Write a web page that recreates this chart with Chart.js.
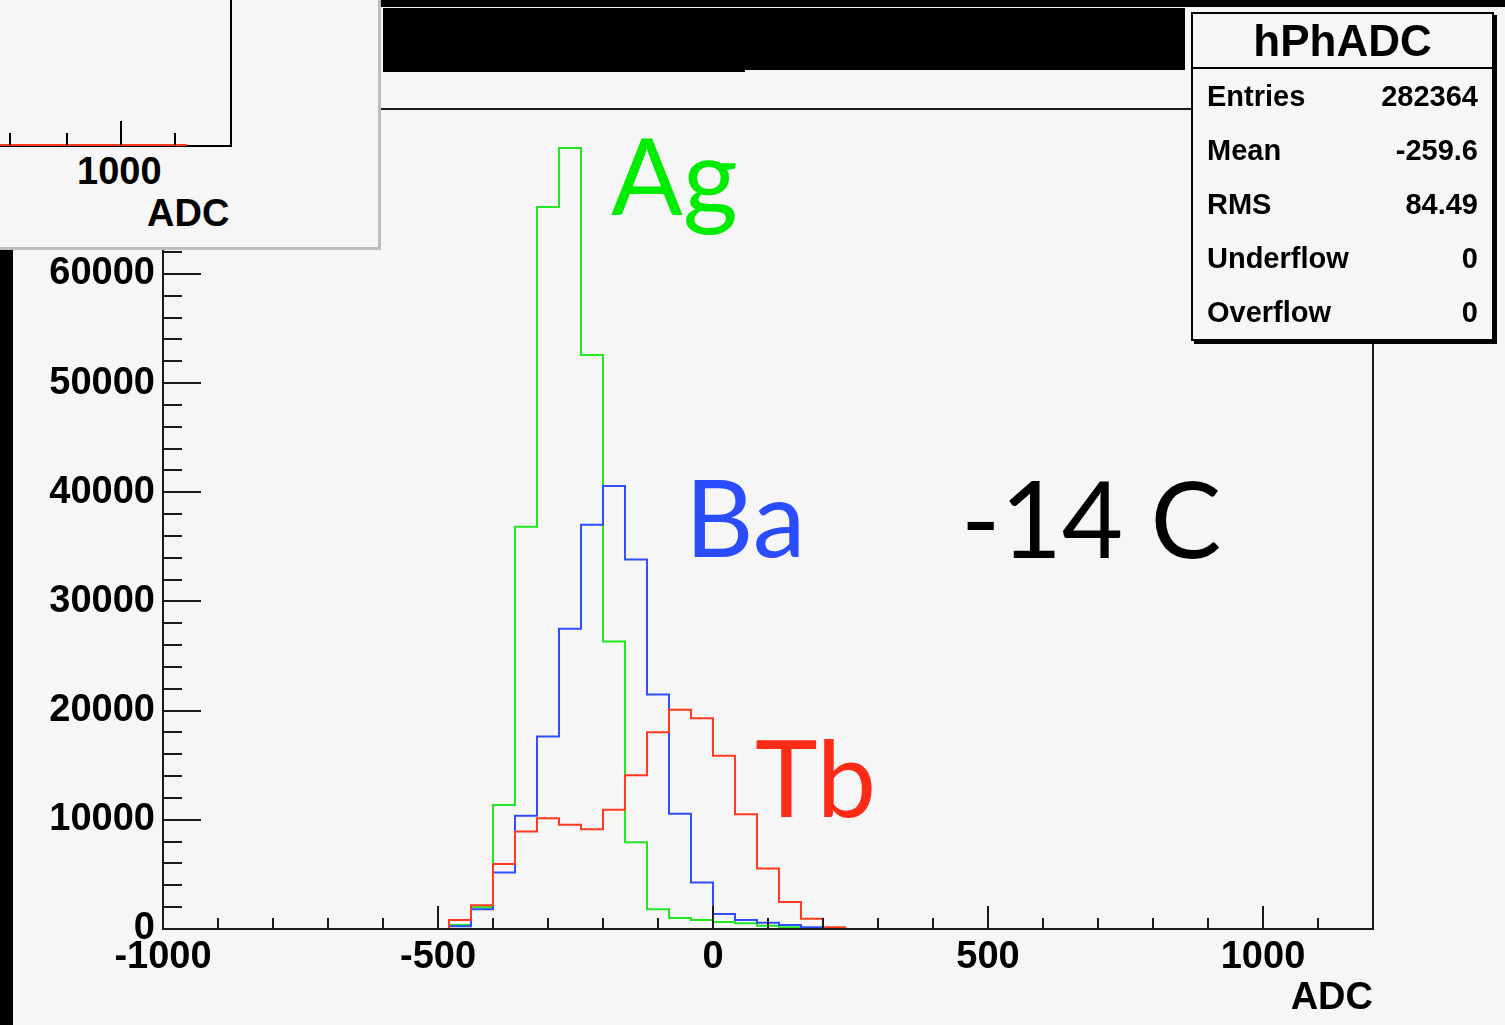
<!DOCTYPE html>
<html>
<head>
<meta charset="utf-8">
<title>hPhADC</title>
<script src="https://cdn.jsdelivr.net/npm/chart.js@4.4.1/dist/chart.umd.min.js"></script>
<style>
  html, body { margin: 0; padding: 0; background: #f6f6f6; }
  #wrap { position: relative; width: 1505px; height: 1025px; overflow: hidden; background: #f6f6f6; }
  #wrap canvas { position: absolute; left: 0; top: 0; }
  .blk { position: absolute; background: #000; }
  .big { position: absolute; font-family: Lato, sans-serif; line-height: 1; white-space: nowrap; font-size: 106px; }
  .rt { position: absolute; font-family: "Liberation Sans", Arial, sans-serif; font-weight: bold; color: #000; white-space: nowrap; line-height: 1; }
  #inset { position: absolute; left: 0; top: 0; width: 378px; height: 247px; background: #f6f6f6;
           border-right: 3px solid #bdbdbd; border-bottom: 3px solid #bdbdbd; }
  #stats { position: absolute; left: 1191px; top: 12px; width: 299px; height: 325px; background: #f6f6f6;
           border: 2px solid #000; box-shadow: 3px 3px 0 #000; font-family: "Liberation Sans", Arial, sans-serif; font-weight: bold; }
  #stats .ttl { height: 53px; line-height: 53px; text-align: center; font-size: 44px; border-bottom: 2px solid #000; }
  #stats .row { height: 54px; display: flex; justify-content: space-between; align-items: center;
                padding: 0 14px 0 14px; font-size: 29px; }
</style>
</head>
<body>
<div id="wrap">
  <canvas id="myChart" width="1505" height="1025"></canvas>

  <!-- black strips from the slide around the pad -->
  <div class="blk" style="left:0;top:250px;width:13px;height:775px;"></div>
  <div class="blk" style="left:381px;top:0;width:1124px;height:7px;"></div>
  <div class="blk" style="left:383px;top:8px;width:802px;height:62px;"></div>
  <div class="blk" style="left:383px;top:70px;width:362px;height:2px;"></div>

  <!-- corner of the other pad overlapping the top left -->
  <div id="inset">
    <div class="blk" style="left:230px;top:0;width:2px;height:147px;"></div>
    <div class="blk" style="left:0;top:145px;width:232px;height:2px;"></div>
    <div class="blk" style="left:0;top:144px;width:187px;height:2px;background:#ff3b1f;"></div>
    <div class="blk" style="left:9px;top:133px;width:2px;height:12px;"></div>
    <div class="blk" style="left:66px;top:133px;width:2px;height:12px;"></div>
    <div class="blk" style="left:120px;top:121px;width:2px;height:24px;"></div>
    <div class="blk" style="left:174px;top:133px;width:2px;height:12px;"></div>
    <div class="rt" style="left:77px;top:152px;font-size:38px;">1000</div>
    <div class="rt" style="left:147px;top:194px;font-size:38px;">ADC</div>
  </div>

  <div id="stats">
    <div class="ttl">hPhADC</div>
    <div class="row"><span>Entries</span><span>282364</span></div>
    <div class="row"><span>Mean</span><span>-259.6</span></div>
    <div class="row"><span>RMS</span><span>84.49</span></div>
    <div class="row"><span>Underflow</span><span>0</span></div>
    <div class="row"><span>Overflow</span><span>0</span></div>
  </div>

  <div class="big" style="left:611px;top:121px;color:#00ec00;">Ag</div>
  <div class="big" style="left:685px;top:463px;color:#2b4bff;">Ba</div>
  <div class="big" style="left:755px;top:723px;color:#ff2b17;">Tb</div>
  <div class="big" style="left:961px;top:464px;color:#000;">-14 C</div>
</div>

<script>
// bins of 40 ADC counts, first bin starts at -480
const binStart = -480;
const binWidth = 40;
const agCounts = [370, 1990, 11350, 36850, 66120, 71530, 52570, 26330, 7950, 1800, 1010, 830, 640, 520, 300, 150, 50, 0];
const baCounts = [250, 1800, 5170, 10370, 17640, 27490, 37030, 40580, 33850, 21470, 10550, 4250, 1370, 830, 580, 370, 150, 0];
const tbCounts = [826, 2170, 5960, 8930, 10150, 9540, 9140, 10920, 14070, 18010, 20090, 19300, 15870, 10520, 5530, 2480, 950, 150];

const xTicks = [-1000, -500, 0, 500, 1000];
const yTicks = [0, 10000, 20000, 30000, 40000, 50000, 60000, 70000];
const xMin = -1000, xMax = 1200;
const yMin = 0, yMax = 75100;

const tickFont = { family: 'Liberation Sans', size: 38, weight: 'bold' };

document.addEventListener('DOMContentLoaded', function () {
    createChart();
});

// histogram outline: one point per bin low edge, closed at the last high edge
function histPoints(counts) {
    const pts = [{ x: binStart, y: 0 }];
    counts.forEach(function (c, i) {
        pts.push({ x: binStart + i * binWidth, y: c });
    });
    pts.push({ x: binStart + counts.length * binWidth, y: 0 });
    return pts;
}

// ROOT style frame with ticks pointing inwards
const rootFrame = {
    id: 'rootFrame',
    afterDatasetsDraw(chart) {
        const { ctx, chartArea: a, scales: { x, y } } = chart;
        ctx.save();
        ctx.strokeStyle = '#1a1a1a';
        ctx.lineWidth = 2;
        ctx.beginPath();
        for (let v = yMin; v <= yMax; v += 2000) {
            const py = Math.round(y.getPixelForValue(v));
            const len = v % 10000 === 0 ? 38 : 19;
            ctx.moveTo(a.left, py);
            ctx.lineTo(a.left + len, py);
        }
        for (let v = xMin; v <= xMax; v += 100) {
            const px = Math.round(x.getPixelForValue(v));
            const len = v % 500 === 0 ? 23 : 11;
            ctx.moveTo(px, a.bottom);
            ctx.lineTo(px, a.bottom - len);
        }
        ctx.stroke();
        ctx.strokeRect(Math.round(a.left), Math.round(a.top), Math.round(a.width), Math.round(a.height));
        ctx.restore();
    }
};

function plainLabel(v) {
    return String(v);
}

function createChart() {
    const ctx = document.getElementById('myChart').getContext('2d');
    const myChart = new Chart(ctx, {
        type: 'line',
        data: {
            datasets: [
                { label: 'Tb', data: histPoints(tbCounts), borderColor: '#ff3a1e' },
                { label: 'Ba', data: histPoints(baCounts), borderColor: '#2f4fff' },
                { label: 'Ag', data: histPoints(agCounts), borderColor: '#22e622' }
            ].map(function (d) {
                return Object.assign(d, { stepped: 'before', borderWidth: 2, pointRadius: 0, fill: false });
            })
        },
        options: {
            responsive: false,
            devicePixelRatio: 1,
            animation: false,
            layout: { padding: { left: 0, right: 132, top: 109, bottom: 0 } },
            plugins: {
                legend: { display: false },
                tooltip: { enabled: false }
            },
            scales: {
                x: {
                    type: 'linear',
                    min: xMin,
                    max: xMax,
                    grid: { display: false, drawTicks: false },
                    border: { display: false },
                    afterBuildTicks: function (s) { s.ticks = xTicks.map(function (v) { return { value: v }; }); },
                    afterFit: function (s) { s.height = 96; },
                    ticks: { font: tickFont, color: '#000', padding: 6, maxRotation: 0, autoSkip: false, callback: plainLabel },
                    title: { display: true, text: 'ADC', align: 'end', color: '#000', font: tickFont, padding: { top: 0, bottom: 4 } }
                },
                y: {
                    type: 'linear',
                    min: yMin,
                    max: yMax,
                    grid: { display: false, drawTicks: false },
                    border: { display: false },
                    afterBuildTicks: function (s) { s.ticks = yTicks.map(function (v) { return { value: v }; }); },
                    afterFit: function (s) { s.width = 163; },
                    ticks: { font: tickFont, color: '#000', padding: 8, autoSkip: false, callback: plainLabel }
                }
            }
        },
        plugins: [rootFrame]
    });
}
</script>
</body>
</html>
